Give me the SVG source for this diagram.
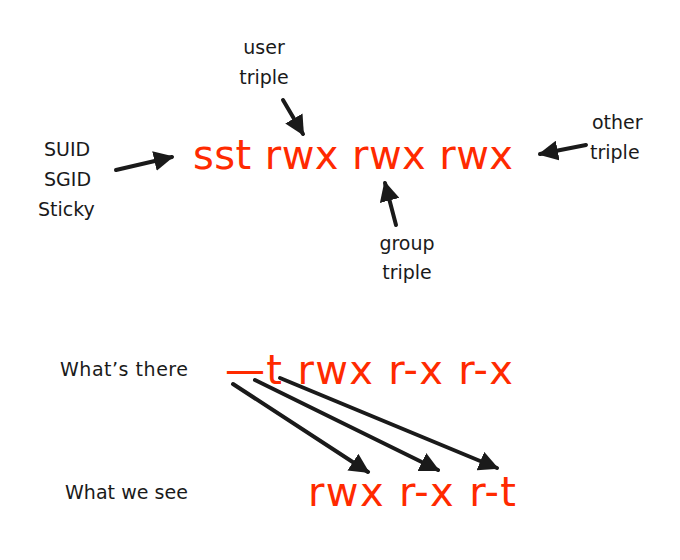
<svg xmlns="http://www.w3.org/2000/svg" width="680" height="560" viewBox="0 0 680 560">
<style>
.lbl{font-family:"DejaVu Sans","Open Sans",sans-serif;font-size:19px;fill:#1a1a1a;}
.big{font-family:"DejaVu Sans","Open Sans",sans-serif;font-size:40px;fill:#ff2a00;}
.con line{stroke:#1a1a1a;stroke-width:4;stroke-linecap:round;}
</style>
<defs>
<marker id="ah" viewBox="0 0 10 10" refX="9" refY="5" markerWidth="5" markerHeight="5" orient="auto" markerUnits="strokeWidth">
<path d="M0,0 L10,5 L0,10 Z" fill="#1a1a1a"/>
</marker>
</defs>
<rect width="680" height="560" fill="#fff"/>
<g id="perm-top"><text class="big" x="193" y="169" textLength="320">sst rwx rwx rwx</text></g>
<g id="user-label"><text class="lbl" text-anchor="middle" x="264" y="54">user</text><text class="lbl" text-anchor="middle" x="264" y="84">triple</text></g>
<g id="suid-label"><text class="lbl" x="44" y="156">SUID</text><text class="lbl" x="44" y="186">SGID</text><text class="lbl" x="38" y="216">Sticky</text></g>
<g id="other-label"><text class="lbl" x="592" y="129">other</text><text class="lbl" x="590" y="159">triple</text></g>
<g id="group-label"><text class="lbl" text-anchor="middle" x="407" y="250">group</text><text class="lbl" text-anchor="middle" x="407" y="279">triple</text></g>
<g id="there-label"><text class="lbl" x="60" y="376" textLength="128">What’s there</text></g>
<g id="see-label"><text class="lbl" x="65" y="499" textLength="123">What we see</text></g>
<g id="perm-there"><text class="big" x="225" y="384" textLength="288">—t rwx r-x r-x</text></g>
<g id="perm-see"><text class="big" x="308" y="506" textLength="208">rwx r-x r-t</text></g>
<g class="con" id="connectors">
<line x1="283" y1="100" x2="303" y2="134" marker-end="url(#ah)"/>
<line x1="116" y1="170" x2="172" y2="157" marker-end="url(#ah)"/>
<line x1="396" y1="225" x2="385" y2="183" marker-end="url(#ah)"/>
<line x1="586" y1="145" x2="540" y2="154" marker-end="url(#ah)"/>
<line x1="233" y1="384" x2="368" y2="472" marker-end="url(#ah)"/>
<line x1="255" y1="380" x2="438" y2="470" marker-end="url(#ah)"/>
<line x1="280" y1="378" x2="497" y2="468" marker-end="url(#ah)"/>
</g>
</svg>
